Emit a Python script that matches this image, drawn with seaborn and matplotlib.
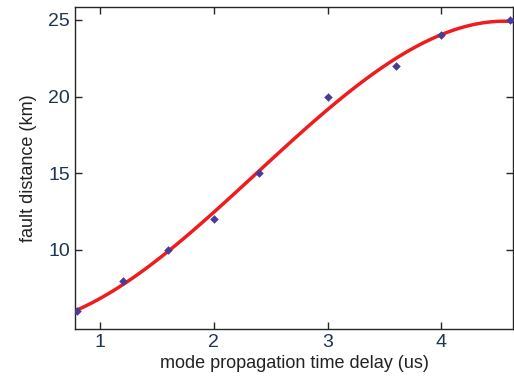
import pandas as pd
import seaborn as sns
import matplotlib.pyplot as plt
import numpy as np

# measured points
delay = [0.8, 1.2, 1.6, 2.0, 2.4, 3.0, 3.6, 4.0, 4.6]
distance = [6, 8, 10, 12, 15, 20, 22, 24, 25]
xticks = [1, 2, 3, 4]
yticks = [10, 15, 20, 25]

df = pd.DataFrame({'delay': delay, 'distance': distance})

sns.set_style('ticks')
plt.rcParams['font.family'] = ['Liberation Sans', 'DejaVu Sans']

fig = plt.figure(figsize=(5.14, 3.87), dpi=100)
ax = fig.add_axes([0.146, 0.150, 0.852, 0.832])
ax.set_xlim(0.78, 4.63)
ax.set_ylim(4.85, 25.85)

# cubic fit line drawn by seaborn
sns.regplot(data=df, x='delay', y='distance', order=3, ci=None, scatter=False,
            color='#ee1c1c', line_kws={'linewidth': 2.5}, ax=ax, truncate=False)
sns.scatterplot(data=df, x='delay', y='distance', marker='D', s=16,
                color='#4a3a9a', edgecolor='#4a3a9a', ax=ax, zorder=3)

ax.set_xlim(0.78, 4.63)
ax.set_ylim(4.85, 25.85)
ax.set_xticks(xticks)
ax.set_yticks(yticks)
ax.tick_params(direction='in', length=5, top=True, right=True,
               labelsize=14, labelcolor='#1e3550', width=1)
for s in ax.spines.values():
    s.set_linewidth(1)
ax.set_xlabel('mode propagation time delay (us)', fontsize=13, color='#222222', labelpad=3)
ax.set_ylabel('fault distance (km)', fontsize=13, color='#222222', labelpad=8)

fig.savefig('out.png', dpi=100)
